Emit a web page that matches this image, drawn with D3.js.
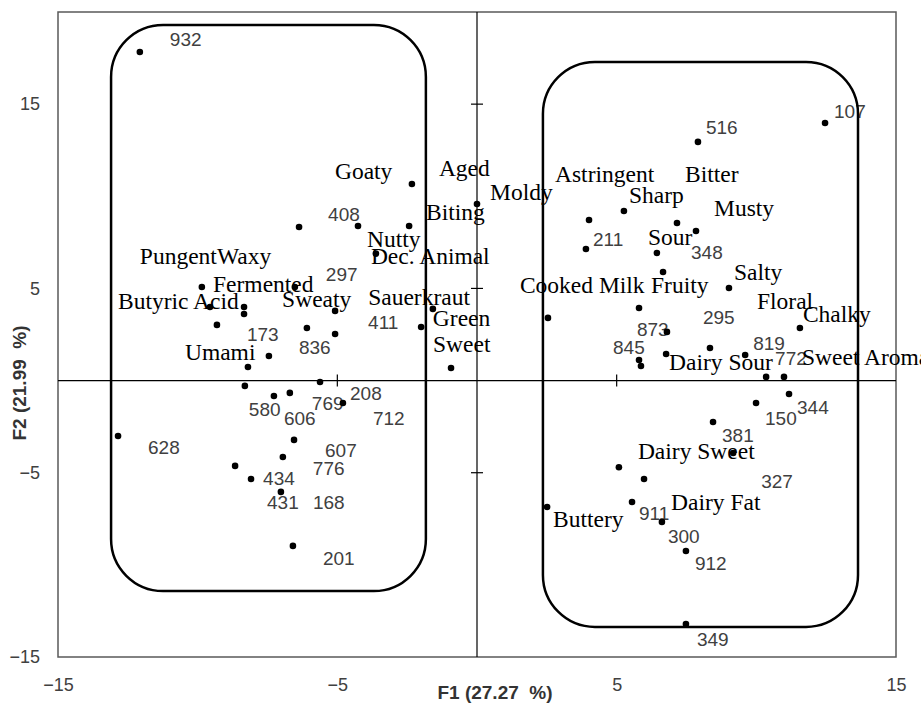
<!DOCTYPE html>
<html>
<head>
<meta charset="utf-8">
<script src="https://cdn.jsdelivr.net/npm/d3@7"></script>
<style>
  html, body { margin: 0; padding: 0; background: #fff; }
  svg { display: block; }
</style>
</head>
<body>
<svg id="chart" width="921" height="703"></svg>
<script>
// ---------- DATA ----------
const sampleNames = ["932","408","297","173","836","411","580","606","769","208","712","628","607","776","434","431","168","201",
  "107","516","211","348","873","295","845","819","772","344","150","381","327","911","300","912","349"];
const sampleF1 = [-12.07,-6.37,-6.52,-9.31,-6.09,-5.08,-8.31,-7.27,-6.70,-5.62,-4.80,-12.85,-6.55,-6.95,-8.66,-8.09,-7.02,-6.59,
  12.46,7.91,3.90,6.66,6.80,8.34,5.80,9.60,10.35,11.17,9.99,8.45,9.17,5.55,6.62,7.48,7.48];
const sampleF2 = [17.83,8.33,5.08,3.02,2.85,3.78,-0.29,-0.84,-0.67,-0.08,-1.22,-3.01,-3.22,-4.15,-4.63,-5.34,-6.04,-8.97,
  13.98,12.95,7.14,5.89,2.64,1.77,1.12,1.39,0.20,-0.73,-1.22,-2.25,-3.93,-6.59,-7.67,-9.25,-13.21];

const attributeNames = ["Goaty","Aged","Moldy","Biting","Nutty","Dec. Animal","Pungent","Waxy","Fermented","Butyric Acid",
  "Sweaty","Umami","Sauerkraut","Green","Sweet",
  "Astringent","Sharp","Bitter","Musty","Sour","Cooked Milk","Fruity","Salty","Chalky","Floral","Dairy Sour",
  "Sweet Aromatic","Dairy Sweet","Dairy Fat","Buttery"];
const attributeF1 = [-2.33,-7.45,0.00,-2.43,-4.26,-3.62,-9.85,-8.34,-8.34,-9.56,
  -5.08,-8.20,-2.00,-1.58,-0.93,
  4.01,5.26,7.16,7.84,6.44,2.54,5.80,9.02,11.56,5.87,6.77,
  10.99,5.08,5.98,2.51];
const attributeF2 = [10.67,1.33,9.58,8.39,8.39,6.89,5.08,3.61,3.99,3.99,
  2.53,0.74,2.91,3.89,0.68,
  8.71,9.20,8.55,8.12,6.92,3.40,3.94,5.02,2.85,0.79,1.44,
  0.20,-4.70,-5.34,-6.86];

// groups drawn as rounded boxes (F1 range, F2 range)
const groupF1 = [[-13.1,-1.83],[2.36,13.64]];
const groupF2 = [[-11.42,19.3],[-13.37,17.29]];

const xTicks = [-15,-5,5,15];
const yTicks = [-15,-5,5,15];
const xTitle = "F1 (27.27  %)";
const yTitle = "F2 (21.99  %)";

// ---------- LAYOUT (label offsets in px relative to the point) ----------
const labelOffset = {
  "932":[30,-6],"408":[29,-6],"297":[31,-6],"173":[30,16],"836":[-8,26],"411":[33,18],"580":[4,30],"606":[10,29],
  "769":[22,17],"208":[30,18],"712":[30,22],"628":[30,18],"607":[31,17],"776":[30,18],"434":[28,19],"431":[16,30],
  "168":[32,17],"201":[30,19],
  "107":[9,-5],"516":[8,-8],"211":[7,-3],"348":[28,-13],"873":[-30,4],"295":[-7,-24],"845":[-26,-6],"819":[8,-5],
  "772":[9,-12],"344":[8,20],"150":[9,22],"381":[9,20],"327":[28,35],"911":[7,18],"300":[6,21],"912":[9,19],"349":[11,22],
  "Goaty":[-77,-5],"Aged":[170,-180],"Moldy":[13,-4],"Biting":[17,-6],"Nutty":[9,21],"Dec. Animal":[-5,10],
  "Pungent":[-62,-23],"Waxy":[-27,-50],"Fermented":[-31,-15],"Butyric Acid":[-92,2],"Sweaty":[-53,-27],
  "Umami":[-63,-7],"Sauerkraut":[-53,-22],"Green":[0,17],"Sweet":[-18,-16],
  "Astringent":[-34,-38],"Sharp":[5,-8],"Bitter":[8,-41],"Musty":[18,-15],"Sour":[-9,-8],"Cooked Milk":[-28,-25],
  "Fruity":[12,-15],"Salty":[5,-8],"Chalky":[3,-6],"Floral":[116,-57],"Dairy Sour":[3,16],"Sweet Aromatic":[18,-12],
  "Dairy Sweet":[19,-8],"Dairy Fat":[27,31],"Buttery":[6,20]
};

// ---------- CHART ----------
const svg = d3.select("#chart");
const x = d3.scaleLinear().domain([-15,15]).range([58,896]);
const y = d3.scaleLinear().domain([-15,20]).range([657,12]);
const sans = "'Liberation Sans', Arial, sans-serif";
const serif = "'Liberation Serif', 'Times New Roman', serif";

const samples = sampleNames.map((n,i)=>({name:n, f1:sampleF1[i], f2:sampleF2[i]}));
const attrs = attributeNames.map((n,i)=>({name:n, f1:attributeF1[i], f2:attributeF2[i]}));

// frame
svg.append("rect")
  .attr("x", x(-15)).attr("y", y(20))
  .attr("width", x(15)-x(-15)).attr("height", y(-15)-y(20))
  .attr("fill","none").attr("stroke","#595959").attr("stroke-width",1.5);

// axis labels at the frame
const gx = svg.append("g").attr("transform",`translate(0,${y(-15)})`)
  .call(d3.axisBottom(x).tickValues(xTicks).tickSize(0).tickPadding(21).tickFormat(d3.format("d")));
const gy = svg.append("g").attr("transform",`translate(${x(-15)},0)`)
  .call(d3.axisLeft(y).tickValues(yTicks).tickSize(0).tickPadding(18).tickFormat(d3.format("d")));
[gx,gy].forEach(g=>{
  g.select(".domain").remove();
  g.selectAll("text").attr("font-family",sans).attr("font-size",18).attr("fill","#404040");
});
gx.selectAll("text").attr("dy","0.71em");

// zero axis lines
svg.append("line").attr("x1",x(-15)).attr("x2",x(15)).attr("y1",y(0)).attr("y2",y(0))
  .attr("stroke","#000").attr("stroke-width",1.2);
svg.append("line").attr("x1",x(0)).attr("x2",x(0)).attr("y1",y(20)).attr("y2",y(-15))
  .attr("stroke","#000").attr("stroke-width",1.2);

// cross tick marks on zero axes
const [xd0,xd1] = x.domain(), [yd0,yd1] = y.domain();
svg.append("g").selectAll("line").data(xTicks.filter(t=>t>xd0&&t<xd1)).join("line")
  .attr("x1",d=>x(d)).attr("x2",d=>x(d)).attr("y1",y(0)-6).attr("y2",y(0)+6)
  .attr("stroke","#000").attr("stroke-width",1.2);
svg.append("g").selectAll("line").data(yTicks.filter(t=>t>yd0&&t<yd1)).join("line")
  .attr("y1",d=>y(d)).attr("y2",d=>y(d)).attr("x1",x(0)-6).attr("x2",x(0)+6)
  .attr("stroke","#000").attr("stroke-width",1.2);

// titles
svg.append("text").attr("x",495).attr("y",699).attr("text-anchor","middle")
  .attr("font-family",sans).attr("font-weight","bold").attr("font-size",19).attr("fill","#333")
  .attr("xml:space","preserve").style("white-space","pre").text(xTitle);
svg.append("text").attr("transform","translate(26,383) rotate(-90)").attr("text-anchor","middle")
  .attr("font-family",sans).attr("font-weight","bold").attr("font-size",19).attr("fill","#333")
  .style("white-space","pre").text(yTitle);

// labels
svg.append("g").selectAll("text").data(samples).join("text")
  .attr("x",d=>x(d.f1)+labelOffset[d.name][0]).attr("y",d=>y(d.f2)+labelOffset[d.name][1])
  .attr("font-family",sans).attr("font-size",19).attr("fill","#404040").text(d=>d.name);
svg.append("g").selectAll("text").data(attrs).join("text")
  .attr("x",d=>x(d.f1)+labelOffset[d.name][0]).attr("y",d=>y(d.f2)+labelOffset[d.name][1])
  .attr("font-family",serif).attr("font-size",23.5).attr("fill","#000").text(d=>d.name);

// points
svg.append("g").selectAll("circle").data(samples.concat(attrs)).join("circle")
  .attr("cx",d=>x(d.f1)).attr("cy",d=>y(d.f2)).attr("r",3.3).attr("fill","#000");

// group boxes
svg.append("g").selectAll("rect").data(groupF1.map((r,i)=>({f1:r,f2:groupF2[i]}))).join("rect")
  .attr("x",d=>x(d.f1[0])).attr("y",d=>y(d.f2[1]))
  .attr("width",d=>x(d.f1[1])-x(d.f1[0])).attr("height",d=>y(d.f2[0])-y(d.f2[1]))
  .attr("rx",52).attr("ry",52)
  .attr("fill","none").attr("stroke","#000").attr("stroke-width",2.5);
</script>
</body>
</html>
